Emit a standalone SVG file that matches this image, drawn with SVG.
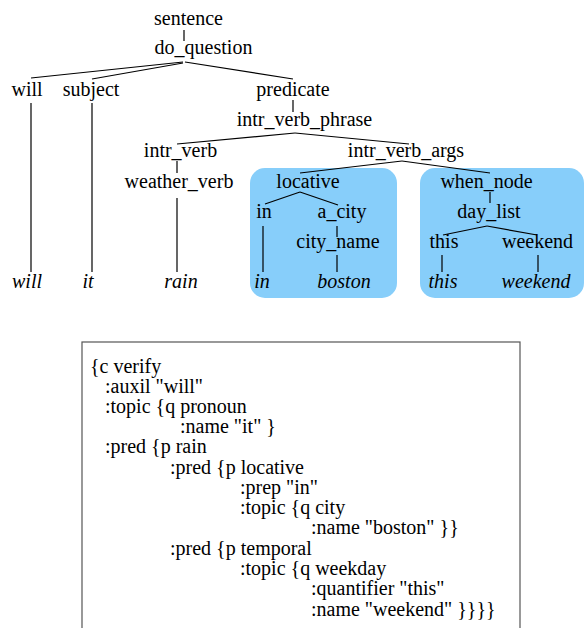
<svg xmlns="http://www.w3.org/2000/svg" width="584" height="628" viewBox="0 0 584 628">
<style>
text{font-family:"Liberation Serif","Times New Roman",serif;font-size:20px;fill:#000}
.n{text-anchor:middle}
.lf{text-anchor:middle;font-style:italic}
.c line{stroke:#000;stroke-width:1.2}
.hl{fill:#87CEFA}
.box{fill:none;stroke:#555;stroke-width:1.2}
</style>
<rect width="584" height="628" fill="#fff"/>
<rect class="hl" x="250" y="168" width="147" height="130" rx="15"/>
<rect class="hl" x="420" y="168" width="164" height="130" rx="15"/>
<g id="connectors" class="c">
<line x1="184" y1="30" x2="184" y2="41"/>
<line x1="183" y1="62" x2="31" y2="78"/>
<line x1="183" y1="63" x2="92" y2="79"/>
<line x1="185" y1="62" x2="293" y2="79"/>
<line x1="31" y1="103" x2="31" y2="272"/>
<line x1="92" y1="103" x2="92" y2="272"/>
<line x1="293" y1="100" x2="293" y2="112"/>
<line x1="295" y1="133" x2="177" y2="144"/>
<line x1="295" y1="133" x2="409" y2="144"/>
<line x1="177" y1="161" x2="177" y2="173"/>
<line x1="177" y1="198" x2="177" y2="272"/>
<line x1="402" y1="161" x2="300" y2="173"/>
<line x1="402" y1="161" x2="490" y2="173"/>
<line x1="300" y1="192" x2="265" y2="204"/>
<line x1="300" y1="192" x2="338" y2="205"/>
<line x1="263" y1="226" x2="263" y2="272"/>
<line x1="337" y1="226" x2="337" y2="237"/>
<line x1="337" y1="255" x2="337" y2="272"/>
<line x1="490" y1="192" x2="490" y2="203"/>
<line x1="487" y1="226" x2="443" y2="235"/>
<line x1="487" y1="226" x2="537" y2="235"/>
<line x1="442" y1="255" x2="442" y2="272"/>
<line x1="538" y1="255" x2="538" y2="272"/>
</g>
<g id="sentence"><text class="n" x="188.5" y="25">sentence</text></g>
<g id="do_question"><text class="n" x="203.5" y="54">do_question</text></g>
<g id="will"><text class="n" x="27" y="96">will</text></g>
<g id="subject"><text class="n" x="91" y="96">subject</text></g>
<g id="predicate"><text class="n" x="293" y="96">predicate</text></g>
<g id="intr_verb_phrase"><text class="n" x="304.5" y="126">intr_verb_phrase</text></g>
<g id="intr_verb"><text class="n" x="180.5" y="157">intr_verb</text></g>
<g id="intr_verb_args"><text class="n" x="406" y="157">intr_verb_args</text></g>
<g id="weather_verb"><text class="n" x="179" y="188">weather_verb</text></g>
<g id="locative"><text class="n" x="308" y="188">locative</text></g>
<g id="when_node"><text class="n" x="486.5" y="188">when_node</text></g>
<g id="in"><text class="n" x="264" y="218">in</text></g>
<g id="a_city"><text class="n" x="342" y="218">a_city</text></g>
<g id="day_list"><text class="n" x="489" y="218">day_list</text></g>
<g id="city_name"><text class="n" x="338" y="248">city_name</text></g>
<g id="this"><text class="n" x="444" y="248">this</text></g>
<g id="weekend"><text class="n" x="537.5" y="248">weekend</text></g>
<g id="leaf_will"><text class="lf" x="27" y="288">will</text></g>
<g id="leaf_it"><text class="lf" x="88" y="288">it</text></g>
<g id="leaf_rain"><text class="lf" x="181" y="288">rain</text></g>
<g id="leaf_in"><text class="lf" x="262" y="288">in</text></g>
<g id="leaf_boston"><text class="lf" x="344" y="288">boston</text></g>
<g id="leaf_this"><text class="lf" x="443" y="288">this</text></g>
<g id="leaf_weekend"><text class="lf" x="536" y="288">weekend</text></g>
<g id="frame">
<rect class="box" x="82" y="342" width="438" height="300"/>
<text x="90" y="373">{c verify</text>
<text x="105" y="393">:auxil "will"</text>
<text x="105" y="413">:topic {q pronoun</text>
<text x="180" y="433">:name "it" }</text>
<text x="105" y="453">:pred {p rain</text>
<text x="170" y="474">:pred {p locative</text>
<text x="240" y="494">:prep "in"</text>
<text x="240" y="514">:topic {q city</text>
<text x="311" y="534">:name "boston" }}</text>
<text x="170" y="555">:pred {p temporal</text>
<text x="240" y="575">:topic {q weekday</text>
<text x="311" y="595">:quantifier "this"</text>
<text x="311" y="616">:name "weekend" }}}}</text>
</g>
</svg>
